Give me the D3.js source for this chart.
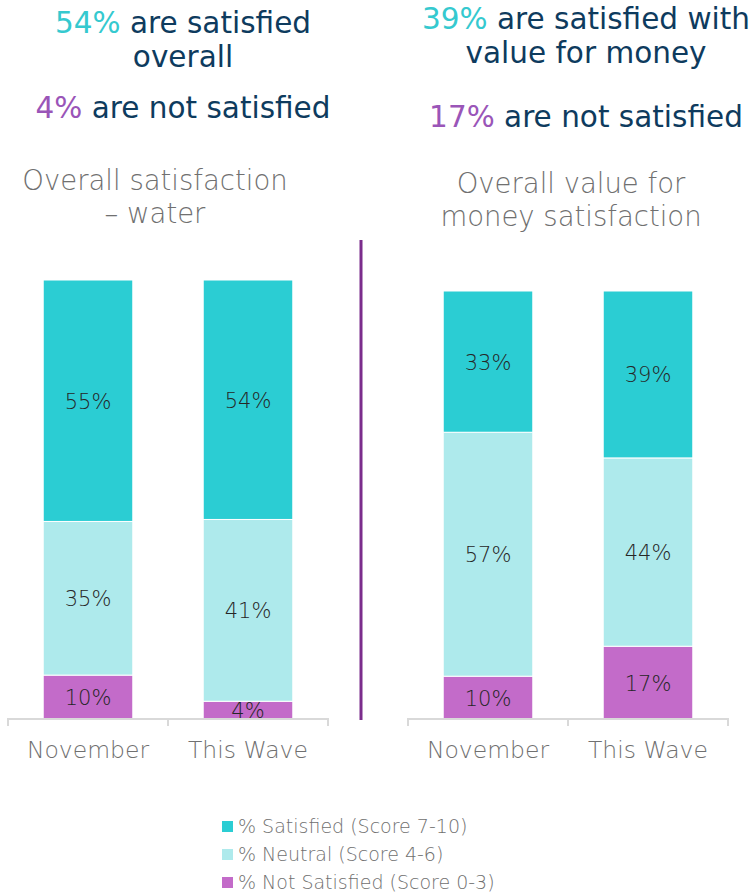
<!DOCTYPE html>
<html>
<head>
<meta charset="utf-8">
<script src="https://cdn.jsdelivr.net/npm/d3@7"></script>
<style>
  body { margin: 0; background: #fff; }
  svg { font-family: "DejaVu Sans", sans-serif; }
</style>
</head>
<body>
<svg width="756" height="894"></svg>
<script>
var svg = d3.select('svg');

// data
var waves = ["November", "This Wave"];
var groups = ["% Satisfied (Score 7-10)", "% Neutral (Score 4-6)", "% Not Satisfied (Score 0-3)"];
var waterSatisfied = [55, 54];
var waterNeutral = [35, 41];
var waterNot = [10, 4];
var moneySatisfied = [33, 39];
var moneyNeutral = [57, 44];
var moneyNot = [10, 17];

var colors = ["#2bcdd3", "#aeeaec", "#c36bc9"];
var teal = "#35c9cf", navy = "#0e3b5e", purple = "#9a55b8", grey = "#707070";

function panel(opts) {
  var x = d3.scaleBand().domain(waves).range(opts.xr).paddingInner(0.44).paddingOuter(0.22);
  // bars are drawn as share of 100% (rounded values may not add up)
  var y = d3.scaleLinear().domain([0, 1]).range([opts.base, opts.top]);

  var rows = waves.map(function (w, i) {
    return {wave: w, s: opts.sat[i], n: opts.neu[i], x: opts.not[i]};
  });
  var stack = d3.stack().keys(["x", "n", "s"]).offset(d3.stackOffsetExpand)(rows);
  var keyColor = {x: colors[2], n: colors[1], s: colors[0]};

  var g = svg.append("g");
  stack.forEach(function (layer) {
    g.selectAll(null)
      .data(layer)
      .enter()
      .append("rect")
      .attr("x", function (d) { return x(d.data.wave); })
      .attr("y", function (d) { return y(d[1]); })
      .attr("width", x.bandwidth())
      .attr("height", function (d) { return y(d[0]) - y(d[1]); })
      .attr("fill", keyColor[layer.key])
      .attr("stroke", "#fff")
      .attr("stroke-width", 1);

    g.selectAll(null)
      .data(layer)
      .enter()
      .append("text")
      .attr("x", function (d) { return x(d.data.wave) + x.bandwidth() / 2; })
      .attr("y", function (d) { return (y(d[0]) + y(d[1])) / 2 + 8; })
      .attr("text-anchor", "middle")
      .attr("font-size", 21)
      .attr("font-weight", 300)
      .attr("fill", "#262626")
      .text(function (d) { return d.data[layer.key] + "%"; });
  });

  // axis with ticks on band edges
  var ax = g.append("g").attr("transform", "translate(0," + opts.base + ")")
    .call(d3.axisBottom(x).tickSize(0).tickPadding(22));
  ax.select(".domain").attr("stroke", "#d9d9d9").attr("stroke-width", 2)
    .attr("d", "M" + opts.xr[0] + ",7V0H" + opts.xr[1] + "V7");
  ax.append("line")
    .attr("x1", (opts.xr[0] + opts.xr[1]) / 2).attr("x2", (opts.xr[0] + opts.xr[1]) / 2)
    .attr("y1", 0).attr("y2", 7)
    .attr("stroke", "#d9d9d9").attr("stroke-width", 2);
  ax.selectAll(".tick text")
    .attr("font-size", 23.5)
    .attr("font-weight", 300)
    .attr("fill", grey)
    .attr("font-family", "DejaVu Sans");

  // subtitle
  var sub = g.append("text").attr("text-anchor", "middle")
    .attr("font-size", 27.5).attr("font-weight", 300).attr("fill", grey);
  opts.subtitle.forEach(function (line, i) {
    sub.append("tspan").attr("x", opts.subX).attr("y", opts.subY + i * 33).text(line);
  });

  // headline
  var head = g.append("text").attr("text-anchor", "middle").attr("font-size", 29.5).attr("fill", navy);
  var h1 = head.append("tspan").attr("x", opts.headX).attr("y", opts.headY);
  h1.append("tspan").attr("fill", teal).text(opts.sat[1] + "% ");
  h1.append("tspan").text(opts.head[0]);
  head.append("tspan").attr("x", opts.headX).attr("y", opts.headY + 34).text(opts.head[1]);
  var h3 = g.append("text").attr("text-anchor", "middle").attr("font-size", 29.5).attr("fill", navy)
    .attr("x", opts.headX).attr("y", opts.notY);
  h3.append("tspan").attr("fill", purple).text(opts.not[1] + "% ");
  h3.append("tspan").text("are not satisfied");
}

panel({
  xr: [8, 328], base: 719, top: 280,
  sat: waterSatisfied, neu: waterNeutral, not: waterNot,
  subtitle: ["Overall satisfaction", "\u2013 water"], subX: 155, subY: 190,
  head: ["are satisfied", "overall"], headX: 183, headY: 33, notY: 118
});
panel({
  xr: [408, 728], base: 719, top: 291,
  sat: moneySatisfied, neu: moneyNeutral, not: moneyNot,
  subtitle: ["Overall value for", "money satisfaction"], subX: 571, subY: 193,
  head: ["are satisfied with", "value for money"], headX: 586, headY: 29, notY: 127
});

// divider
svg.append("line")
  .attr("x1", 361).attr("x2", 361).attr("y1", 240).attr("y2", 720)
  .attr("stroke", "#7b2d8c").attr("stroke-width", 3);

// legend
var legend = svg.append("g").attr("transform", "translate(222,816)");
var item = legend.selectAll("g")
  .data(groups)
  .enter()
  .append("g")
  .attr("transform", function (d, i) { return "translate(0," + i * 28 + ")"; });
item.append("rect").attr("width", 11).attr("height", 11).attr("y", 5)
  .attr("fill", function (d, i) { return colors[i]; });
item.append("text").attr("x", 16).attr("y", 17)
  .attr("font-size", 19).attr("font-weight", 300).attr("fill", grey)
  .text(function (d) { return d; });
</script>
</body>
</html>
